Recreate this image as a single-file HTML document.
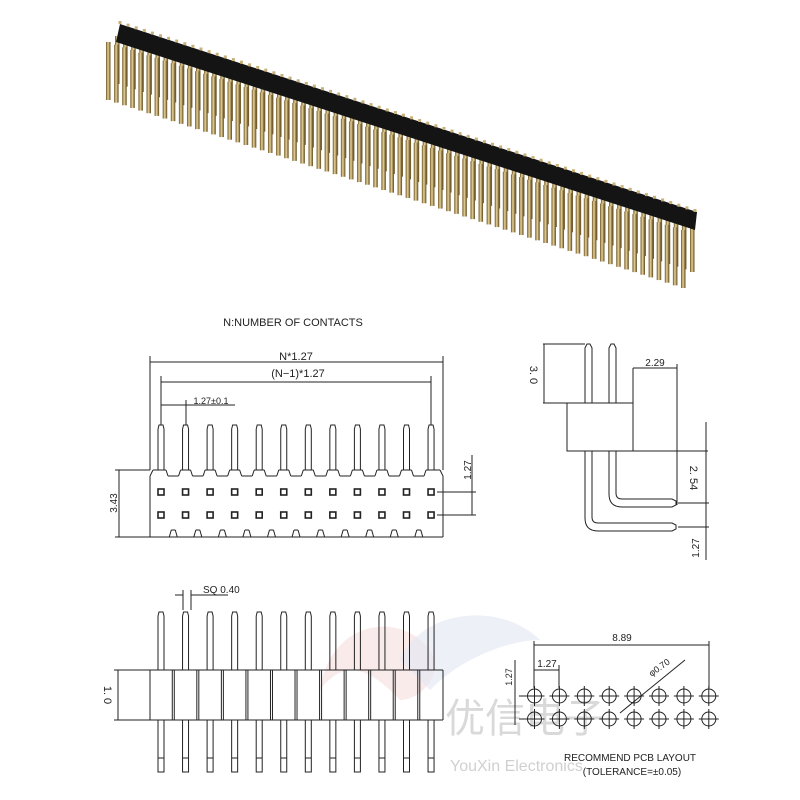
<!DOCTYPE html>
<html><head><meta charset="utf-8"><style>
html,body{margin:0;padding:0;background:#fff;width:800px;height:800px;overflow:hidden}
svg{display:block}
text{font-family:"Liberation Sans","Noto Sans CJK SC",sans-serif;fill:#222}
</style></head><body>
<svg id="s" width="800" height="800" viewBox="0 0 800 800" xmlns="http://www.w3.org/2000/svg">
<defs>
<linearGradient id="gold" x1="0" x2="1" y1="0" y2="0">
<stop offset="0" stop-color="#6b5220"/><stop offset="0.45" stop-color="#e8d49a"/><stop offset="1" stop-color="#5a4418"/>
</linearGradient>
</defs>
<g id="photo"></g>
<path d="M320,690 C330,620 400,610 430,650 C445,675 420,700 400,700 C380,680 350,650 320,690Z" fill="#f6dede" opacity="0.6"/>
<path d="M400,660 C420,610 500,600 540,640 C520,640 470,650 430,690Z" fill="#e2e6f3" opacity="0.6"/>
<text x="445" y="732" font-size="40" style="fill:#d9d9d9">优信电子</text>
<text x="450" y="771" font-size="16" style="fill:#d0d0d0">YouXin Electronics</text>
<g id="draw" stroke="#222" stroke-width="1" fill="none"></g>
<text x="293" y="326" font-size="11" text-anchor="middle">N:NUMBER OF CONTACTS</text>
<text x="296" y="360" font-size="11" text-anchor="middle">N*1.27</text>
<text x="298" y="377" font-size="11" text-anchor="middle">(N−1)*1.27</text>
<text x="211" y="404" font-size="9" text-anchor="middle">1.27±0.1</text>
<text x="0" y="0" font-size="10" text-anchor="middle" transform="translate(117,503) rotate(-90)">3.43</text>
<text x="0" y="0" font-size="10" text-anchor="middle" transform="translate(471,470) rotate(-90)">1.27</text>
<text x="0" y="0" font-size="11" text-anchor="middle" transform="translate(530,375) rotate(90)">3. 0</text>
<text x="655" y="366" font-size="10" text-anchor="middle">2.29</text>
<text x="0" y="0" font-size="11" text-anchor="middle" transform="translate(690,478) rotate(90)">2. 54</text>
<text x="0" y="0" font-size="10" text-anchor="middle" transform="translate(699,548) rotate(-90)">1.27</text>
<text x="203" y="593" font-size="10">SQ  0.40</text>
<text x="0" y="0" font-size="11" text-anchor="middle" transform="translate(104,695) rotate(90)">1. 0</text>
<text x="622" y="641" font-size="10" text-anchor="middle">8.89</text>
<text x="547" y="667" font-size="10" text-anchor="middle">1.27</text>
<text x="0" y="0" font-size="9" text-anchor="middle" transform="translate(512,677) rotate(-90)">1.27</text>
<text x="0" y="0" font-size="9" text-anchor="middle" transform="translate(661,670) rotate(-35)">φ0.70</text>
<text x="630" y="761" font-size="10" text-anchor="middle">RECOMMEND  PCB  LAYOUT</text>
<text x="632" y="775" font-size="10" text-anchor="middle">(TOLERANCE=±0.05)</text>
</svg>
<script>
var NS="http://www.w3.org/2000/svg";
function el(p,t,a){var e=document.createElementNS(NS,t);for(var k in a)e.setAttribute(k,a[k]);p.appendChild(e);return e;}
var ph=document.getElementById('photo');
var x0=120,y0=30,x1=695,y1=218,n=72;
for(var r=0;r<2;r++){
 for(var i=0;i<n;i++){
  var t=i/(n-1),x=x0+(x1-x0)*t,y=y0+(y1-y0)*t;
  var ox=r?-12:-3, oy=r?12:6, len=r?58:48;
  el(ph,'rect',{x:x+ox-2,y:y+oy,width:4.5,height:len,fill:'url(#gold)'});
 }
 if(r==0) el(ph,'polygon',{points:(x0)+','+(y0-6)+' '+(x1+2)+','+(y1-6)+' '+(x1)+','+(y1+12)+' '+(x0-4)+','+(y0+12),fill:'#141414'});
}
for(var i=0;i<n;i++){var t=i/(n-1),x=x0+(x1-x0)*t,y=y0+(y1-y0)*t;el(ph,'rect',{x:x-1.5,y:y-9,width:3,height:3,fill:'#c9b27a'});}
var d=document.getElementById('draw');
function L(a,b,c,e){el(d,'line',{x1:a,y1:b,x2:c,y2:e});}
function P(s){el(d,'path',{d:s});}
var px=[];for(var i=0;i<12;i++)px.push(161+i*24.55);
L(150,362,443,362);L(150,356,150,470);L(443,356,443,470);
L(161,382,431,382);L(161,376,161,425);L(431,376,431,425);
L(161,405,186,405);L(186,405,235,405);L(186,400,186,425);
px.forEach(function(x){P('M'+(x-3)+',470 V429 L'+(x-2)+',425 H'+(x+2)+' L'+(x+3)+',429 V470');});
// body outline
L(150,476,150,537);L(443,476,443,537);L(150,537,443,537);
L(150,476,153,470);L(443,476,440,470);
L(153,470,px[0]+5,470);L(px[11]-5,470,440,470);
for(var i=0;i<11;i++){var a=px[i]+5,b=px[i+1]-5;L(a-10,470,a,470);L(a,470,a+2,476);L(a+2,476,b-2,476);L(b-2,476,b,470);L(b,470,b+10,470);}
for(var i=1;i<12;i++){var m=(px[i]+px[i-1])/2;L(m-4,537,m-2,530);L(m-2,530,m+2,530);L(m+2,530,m+4,537);}
px.forEach(function(x){el(d,'rect',{x:x-3,y:489,width:6,height:6,'stroke-width':1.6});el(d,'rect',{x:x-3,y:512,width:6,height:6,'stroke-width':1.6});});
L(115,470,150,470);L(115,537,150,537);L(119,470,119,537);
L(437,492,476,492);L(437,515,476,515);L(472,455,472,515);
// side
el(d,'rect',{x:567,y:403,width:66,height:48});
P('M585,403 V348 L587,344 H590 L592,348 V403');P('M609,403 V348 L611,344 H614 L616,348 V403');
P('M585,451 V518 Q585,531 598,531 H672 L676,529 V525 L672,523 H598 Q592,523 592,517 V451');
P('M609,451 V494 Q609,507 622,507 H672 L676,505 V501 L672,499 H622 Q616,499 616,493 V451');
L(543,344,585,344);L(543,403,567,403);L(544,344,544,403);
L(633,368,677,368);L(633,368,633,403);L(677,364,677,505);
L(633,451,708,451);L(706,422,706,560);L(678,503,709,503);L(678,527,709,527);
// bottom left
L(175,595,183,595);L(191,595,228,595);L(183,590,183,610);L(191,590,191,610);
L(150,670,443,670);L(150,720,443,720);L(150,670,150,720);L(443,670,443,720);
L(114,670,150,670);L(114,720,150,720);L(118,670,118,720);
px.forEach(function(x,i){P('M'+(x-3)+',670 V616 L'+(x-2)+',612 H'+(x+2)+' L'+(x+3)+',616 V670');
 el(d,'rect',{x:x-3,y:720,width:6,height:52});L(x-3,758,x+3,758);
 if(i<11){var m=(x+px[i+1])/2;L(m-1,670,m-1,720);L(m+1,670,m+1,720);}
});
var cx=[];for(var i=0;i<8;i++)cx.push(534.5+i*24.9);
L(534,645,709,645);L(534,641,534,688);L(709,641,709,688);
L(534,670,559,670);L(559,665,559,688);
L(519,696,527,696);L(519,719,527,719);L(515,660,515,725);
cx.forEach(function(x){[696,719].forEach(function(y){el(d,'circle',{cx:x,cy:y,r:7});L(x-10,y,x+10,y);L(x,y-10,x,y+10);});});
L(620,713,685,660);
</script>
</body></html>
